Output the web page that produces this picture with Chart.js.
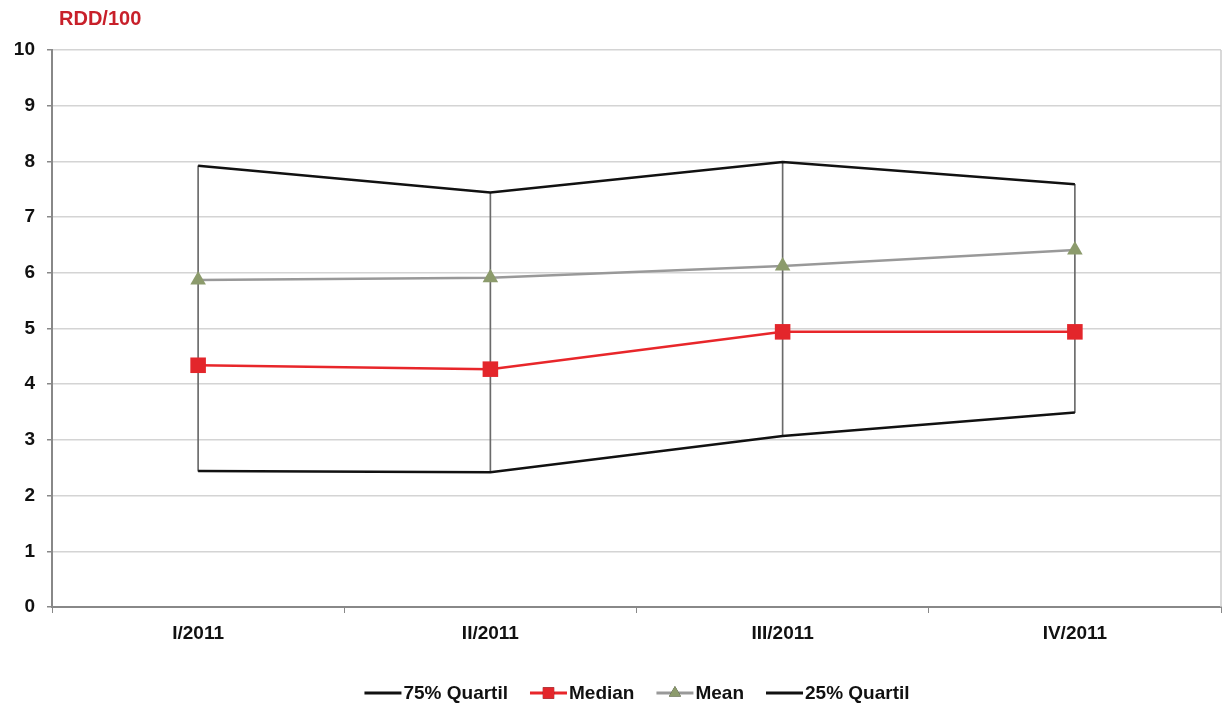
<!DOCTYPE html>
<html>
<head>
<meta charset="utf-8">
<script src="https://cdn.jsdelivr.net/npm/chart.js@4"></script>
<style>
  html, body { margin: 0; padding: 0; background: #fff; overflow: hidden; }
  canvas { display: block; }
</style>
</head>
<body>
<canvas id="rddChart" width="1223" height="709"></canvas>
<script>
// data
const quarters = ['I/2011', 'II/2011', 'III/2011', 'IV/2011'];
const q75 = [7.92, 7.44, 7.99, 7.59];
const median = [4.34, 4.27, 4.94, 4.94];
const mean = [5.87, 5.91, 6.12, 6.41];
const q25 = [2.44, 2.42, 3.07, 3.49];
const yTicks = [0, 1, 2, 3, 4, 5, 6, 7, 8, 9, 10];

const FONT = '"Liberation Sans", Arial, sans-serif';

// title top left + thin frame line on the right of the plot
const titlePlugin = {
    id: 'rddTitle',
    afterDraw: function(chart) {
        const ctx = chart.ctx;
        const area = chart.chartArea;
        ctx.save();
        ctx.strokeStyle = '#cccccc';
        ctx.lineWidth = 1.5;
        ctx.beginPath();
        ctx.moveTo(area.right, area.top);
        ctx.lineTo(area.right, area.bottom);
        ctx.stroke();
        ctx.font = 'bold 20px ' + FONT;
        ctx.fillStyle = '#c8202a';
        ctx.textAlign = 'left';
        ctx.textBaseline = 'middle';
        ctx.fillText('RDD/100', 59, 19);
        ctx.restore();
    }
};

// legend: short line with marker in the middle, then label
const legendPlugin = {
    id: 'lineLegend',
    afterDraw: function(chart) {
        const ctx = chart.ctx;
        const items = chart.data.datasets.filter(d => d.type === 'line');
        const lineLen = 37, textGap = 2, itemGap = 22;
        ctx.save();
        ctx.font = 'bold 19px ' + FONT;
        let total = 0;
        items.forEach((d, i) => {
            total += lineLen + textGap + ctx.measureText(d.label).width;
            if (i < items.length - 1) total += itemGap;
        });
        let x = 637 - total / 2;
        const y = 693;
        items.forEach(d => {
            ctx.strokeStyle = d.borderColor;
            ctx.lineWidth = 3;
            ctx.beginPath();
            ctx.moveTo(x, y);
            ctx.lineTo(x + lineLen, y);
            ctx.stroke();
            if (d.pointRadius > 0) {
                Chart.helpers.drawPoint(ctx, {
                    pointStyle: d.pointStyle,
                    radius: d.legendRadius,
                    borderWidth: 0
                }, x + lineLen / 2, y);
                ctx.fillStyle = d.pointBackgroundColor;
                ctx.fill();
            }
            ctx.fillStyle = '#111111';
            ctx.textAlign = 'left';
            ctx.textBaseline = 'middle';
            ctx.fillText(d.label, x + lineLen + textGap, y + 1);
            x += lineLen + textGap + ctx.measureText(d.label).width + itemGap;
        });
        ctx.restore();
    }
};

const ctx = document.getElementById('rddChart').getContext('2d');
new Chart(ctx, {
    data: {
        labels: quarters,
        datasets: [
            {
                type: 'bar',
                label: 'range',
                data: q25.map((lo, i) => [lo, q75[i]]),
                backgroundColor: '#6a6a6a',
                barThickness: 1,
                order: 10
            },
            {
                type: 'line',
                label: '75% Quartil',
                data: q75,
                borderColor: '#111111',
                borderWidth: 2.5,
                pointRadius: 0,
                tension: 0,
                order: 3
            },
            {
                type: 'line',
                label: 'Median',
                data: median,
                borderColor: '#e8262a',
                borderWidth: 2.5,
                pointStyle: 'rect',
                pointRadius: 11,
                legendRadius: 8,
                pointBackgroundColor: '#e3262b',
                pointBorderWidth: 0,
                tension: 0,
                order: 1
            },
            {
                type: 'line',
                label: 'Mean',
                data: mean,
                borderColor: '#999999',
                borderWidth: 2.5,
                pointStyle: 'triangle',
                pointRadius: 9,
                legendRadius: 7,
                pointBackgroundColor: '#8c9b6c',
                pointBorderWidth: 0,
                tension: 0,
                order: 2
            },
            {
                type: 'line',
                label: '25% Quartil',
                data: q25,
                borderColor: '#111111',
                borderWidth: 2.5,
                pointRadius: 0,
                tension: 0,
                order: 3
            }
        ]
    },
    options: {
        responsive: false,
        animation: false,
        layout: { autoPadding: false, padding: { top: 50, left: 0, right: 2, bottom: 0 } },
        plugins: {
            legend: { display: false },
            tooltip: { enabled: false }
        },
        scales: {
            x: {
                offset: true,
                grid: {
                    offset: true,
                    drawOnChartArea: false,
                    tickLength: 6,
                    tickColor: '#888888'
                },
                border: { color: '#888888', width: 2 },
                ticks: {
                    font: { family: FONT, size: 19, weight: 'bold' },
                    color: '#111111',
                    padding: 9
                },
                afterFit: function(scale) {
                    scale.height = 102;
                    scale.paddingLeft = 0;
                    scale.paddingRight = 0;
                }
            },
            y: {
                min: 0,
                max: 10,
                afterBuildTicks: function(scale) {
                    scale.ticks = yTicks.map(v => ({ value: v }));
                },
                grid: {
                    color: '#d4d4d4',
                    lineWidth: 1.5,
                    tickLength: 5,
                    tickColor: '#888888'
                },
                border: { color: '#888888', width: 2 },
                ticks: {
                    font: { family: FONT, size: 19, weight: 'bold' },
                    color: '#111111',
                    padding: 12
                },
                afterFit: function(scale) { scale.width = 52; }
            }
        }
    },
    plugins: [titlePlugin, legendPlugin]
});
</script>
</body>
</html>
